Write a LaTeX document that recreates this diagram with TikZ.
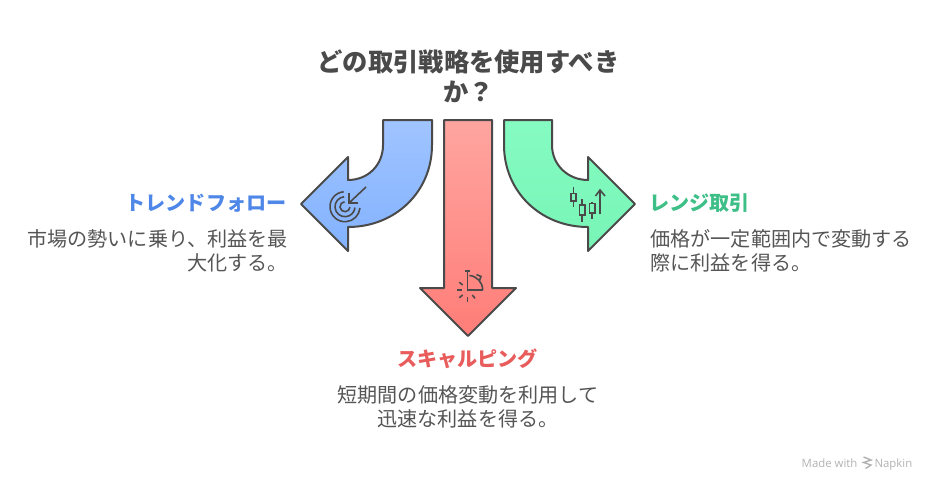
\documentclass[tikz,border=0pt]{standalone}
\usepackage{fontspec}
\setmainfont{Noto Sans CJK JP}
\newfontfamily\logofont{Open Sans}
\definecolor{inkgray}{HTML}{4A4A4A}
\definecolor{textgray}{HTML}{555555}
\definecolor{bluetext}{HTML}{4F87E8}
\definecolor{greentext}{HTML}{3DBF87}
\definecolor{redtext}{HTML}{E85C5C}
\definecolor{bluetop}{HTML}{A0C4FF}
\definecolor{bluebot}{HTML}{82B2FF}
\definecolor{redtop}{HTML}{FFA5A0}
\definecolor{redbot}{HTML}{FF7D78}
\definecolor{greentop}{HTML}{85FBC2}
\definecolor{greenbot}{HTML}{78F5B6}
\tikzset{
  arrowshape/.style={draw=inkgray,line width=2pt,line join=round},
  iconline/.style={draw=inkgray,line width=1.6pt},
  titletext/.style={text=inkgray,font=\fontsize{25.3}{30}\selectfont\bfseries,align=center},
  headtext/.style={font=\fontsize{20.1}{24}\selectfont\bfseries},
  bodytext/.style={text=textgray,font=\fontsize{20.1}{24}\selectfont},
  logotext/.style={text=black!30,font=\logofont\fontsize{11.4}{13}\selectfont}
}
\begin{document}
\begin{tikzpicture}[x=1pt,y=-1pt]
    \useasboundingbox (0,0) rectangle (936,490);

    % Title
    \node[titletext] (title) at (468.5,76) {どの取引戦略を使用すべき\\か？};

    % Left arrow
    \path[arrowshape,top color=bluetop,bottom color=bluebot]
        (383,120) -- (432,120) -- (432,145) .. controls (432,192) and (395,227) .. (348,227)
        -- (348,251) -- (301,204) -- (348,157) -- (348,180)
        .. controls (368,180) and (383,165) .. (383,145) -- cycle;

    % Middle arrow
    \path[arrowshape,top color=redtop,bottom color=redbot]
        (444,120) -- (492,120) -- (492,288) -- (516,288) -- (468,336)
        -- (420,288) -- (444,288) -- cycle;

    % Right arrow
    \path[arrowshape,top color=greentop,bottom color=greenbot]
        (504,120) -- (552,120) -- (552,145) .. controls (552,165) and (568,180) .. (588,180)
        -- (588,157) -- (635,204) -- (588,251) -- (588,227)
        .. controls (541,227) and (504,192) .. (504,145) -- cycle;

    % Target icon
    \foreach \r in {15,10,5}
        \draw[iconline] (345,206.7) ++(-95:\r) arc[start angle=-95,end angle=-355,radius=\r];
    \draw[iconline] (366,187) -- (349,203);
    \draw[iconline] (349,193) -- (349,203) -- (358,203);

    % Clock icon
    \draw[iconline] (465,270.7) -- (469.6,270.7);
    \draw[iconline] (467.3,270.7) -- (467.3,290) -- (482.7,290);
    \draw[iconline] (482.7,290) arc[start angle=0,end angle=-85,radius=14.6];
    \draw[iconline] (476.5,274.5) -- (481,276.5) -- (479.5,280.5);
    \draw[iconline] (456.7,290) -- (461.7,290);
    \draw[iconline] (459.3,282.3) -- (462.7,285);
    \draw[iconline] (459.3,297.7) -- (462.7,295);
    \draw[iconline] (467.3,296.7) -- (467.3,301.7);
    \draw[iconline] (472.3,295) -- (475,298.3);

    % Candlestick icon
    \draw[iconline] (573.3,186.7) -- (573.3,193.3);
    \draw[iconline] (573.3,201) -- (573.3,206.7);
    \draw[iconline] (570.7,193.3) rectangle (576,201);
    \draw[iconline] (582,199.3) -- (582,205);
    \draw[iconline] (582,215) -- (582,221.7);
    \draw[iconline] (579.3,205) rectangle (584.7,215);
    \draw[iconline] (592,201.7) -- (592,203.3);
    \draw[iconline] (592,212.7) -- (592,219);
    \draw[iconline] (589.3,203.3) rectangle (594.7,212.7);
    \draw[iconline] (600,214.3) -- (600,190);
    \draw[iconline] (595.5,196) -- (600,190) -- (605,196);

    % Left labels
    \node[headtext,text=bluetext,anchor=east] (trendhead) at (290,203) {トレンドフォロー};
    \node[bodytext,anchor=north east,align=right] (trendbody) at (291.5,226) {市場の勢いに乗り、利益を最\\大化する。};

    % Right labels
    \node[headtext,text=greentext,anchor=west] (rangehead) at (646,203) {レンジ取引};
    \node[bodytext,anchor=north west,align=left] (rangebody) at (647,226) {価格が一定範囲内で変動する\\際に利益を得る。};

    % Bottom labels
    \node[headtext,text=redtext] (scalphead) at (467.5,359) {スキャルピング};
    \node[bodytext,align=center] (scalpbody) at (468,407) {短期間の価格変動を利用して\\迅速な利益を得る。};

    % Watermark
    \node[logotext,anchor=base east] (madewith) at (861,467) {Made with};
    \node[logotext,anchor=base west] (napkin) at (871,467) {Napkin};
    \draw[black!30,line width=1.4pt] (863.5,457) -- (871,460) -- (863.5,462.5) -- (871,465) -- (865.5,468.5);
\end{tikzpicture}
\end{document}
